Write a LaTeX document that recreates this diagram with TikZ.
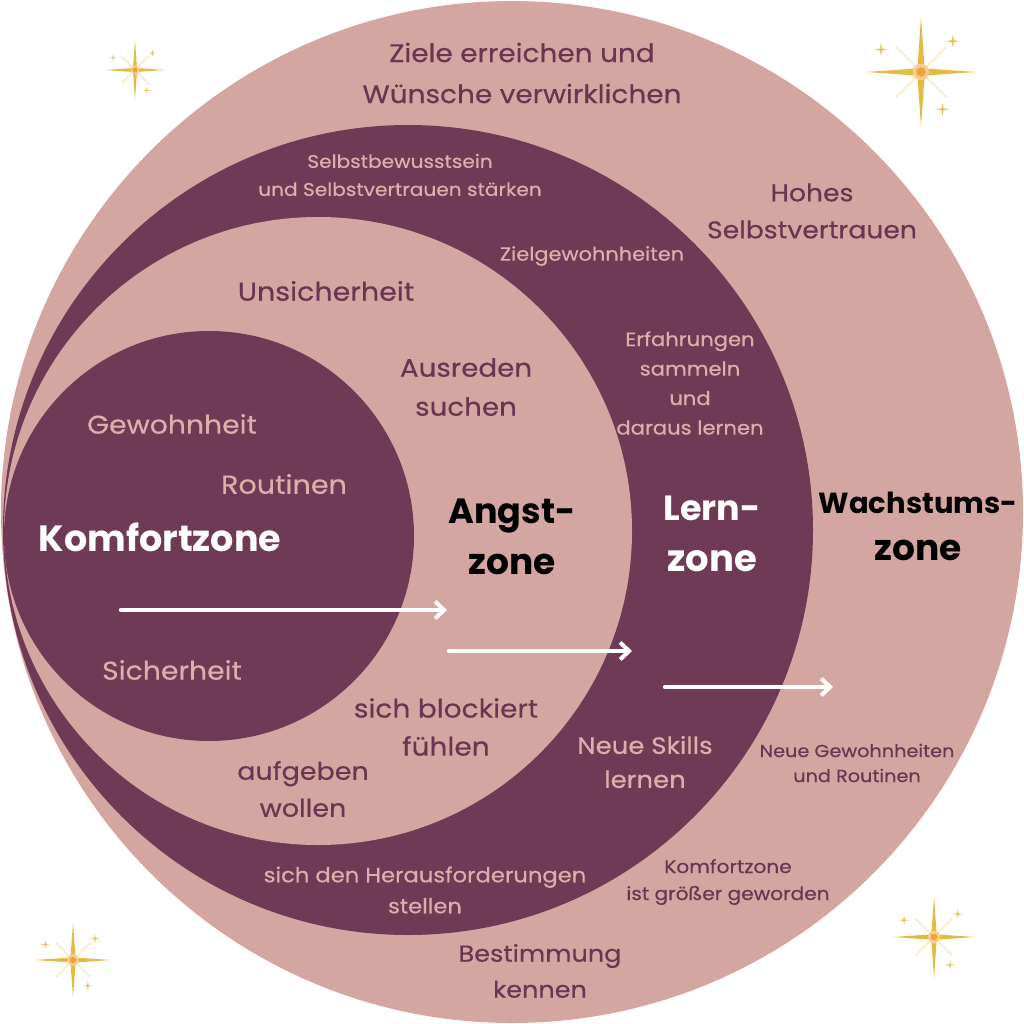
\documentclass[tikz,border=0pt]{standalone}
\usepackage{fontspec}
\setmainfont{Poppins}[FakeStretch=1.1,FakeBold=0.4]
\newfontfamily\titlefont{Poppins}
\usetikzlibrary{arrows.meta}
\definecolor{rose}{HTML}{D4A6A2}
\definecolor{plum}{HTML}{6F3A55}
\definecolor{plumtext}{HTML}{6A3551}
\definecolor{rosetext}{HTML}{DCAFAC}
\definecolor{gold}{HTML}{E4BB40}
\definecolor{goldcore}{HTML}{EDA43A}
\newcommand\fsz[2]{\fontsize{#1}{#2}\selectfont}
\begin{document}
\begin{tikzpicture}[x=1pt,y=-1pt,
  onpink/.style={text=plumtext, align=center, inner sep=0pt},
  onplum/.style={text=rosetext, align=center, inner sep=0pt},
  titlew/.style={text=white, align=center, inner sep=0pt},
  titleb/.style={text=black, align=center, inner sep=0pt},
  warrow/.style={draw=white, line width=4.5pt, line cap=round,
    -{Straight Barb[length=9pt,width=17pt,line width=4pt]}},
  sparkle/.pic={
    \draw[gold!45, line width=0.8pt] (-0.45,-0.45) -- (0.45,0.45) (-0.45,0.45) -- (0.45,-0.45);
    \fill[gold] (0,-1) -- (0.065,-0.065) -- (1,0) -- (0.065,0.065) -- (0,1) -- (-0.065,0.065) -- (-1,0) -- (-0.065,-0.065) -- cycle;
    \fill[goldcore!55] (0,0) circle (0.15);
    \fill[goldcore] (0,0) circle (0.085);
    \foreach \px/\py in {-0.73/-0.41, 0.58/-0.56, 0.39/0.68} {
      \fill[gold!85] (\px,\py-0.12) -- (\px+0.02,\py-0.02) -- (\px+0.12,\py) -- (\px+0.02,\py+0.02)
        -- (\px,\py+0.12) -- (\px-0.02,\py+0.02) -- (\px-0.12,\py) -- (\px-0.02,\py-0.02) -- cycle;
    }
  }]
\useasboundingbox (0,0) rectangle (1024,1024);
\fill[white] (0,0) rectangle (1024,1024);
% zones
\fill[rose] (512,512) circle (511pt);
\fill[plum] (408,530) circle (405pt);
\fill[rose] (318,531) circle (314pt);
\fill[plum] (209,536) circle (205pt);
% stars
\pic[scale=30] (starTL) at (135,70) {sparkle};
\pic[scale=55] (starTR) at (921,72) {sparkle};
\pic[scale=38] (starBL) at (73,960) {sparkle};
\pic[scale=41] (starBR) at (934,937) {sparkle};
% labels
\node[onpink, font=\fsz{25.4}{41}] (ziele) at (522,73) {Ziele erreichen und\\Wünsche verwirklichen};
\node[onplum, font=\fsz{18.3}{28}] (selbst) at (400,175) {Selbstbewusstsein\\und Selbstvertrauen stärken};
\node[onpink, font=\fsz{24.2}{37}] (hohes) at (812,211) {Hohes\\Selbstvertrauen};
\node[onplum, font=\fsz{19}{28}] (zielgew) at (592,256) {Zielgewohnheiten};
\node[onpink, font=\fsz{25.9}{38}] (unsich) at (326,291) {Unsicherheit};
\node[onplum, font=\fsz{19.2}{29.5}] (erfahr) at (690,383) {Erfahrungen\\sammeln\\und\\daraus lernen};
\node[onpink, font=\fsz{25.2}{39}] (ausreden) at (466,387) {Ausreden\\suchen};
\node[onplum, font=\fsz{25.7}{38}] (gewohn) at (172,424) {Gewohnheit};
\node[onplum, font=\fsz{26}{38}] (routinen) at (284,484) {Routinen};
\node[titlew, font=\titlefont\bfseries\fsz{36.5}{50}] (komfort) at (160,537) {Komfortzone};
\node[titleb, font=\titlefont\bfseries\fsz{35}{51}] (angst) at (512,537) {Angst-\\\fsz{36}{51}zone};
\node[titlew, font=\titlefont\bfseries\fsz{35}{51}] (lern) at (712,534) {Lern-\\\fsz{37}{51}zone};
\node[titleb, font=\titlefont\bfseries\fsz{29}{47}] (wachs) at (918,526) {Wachstums-\\\fsz{36}{47}zone};
\node[onplum, font=\fsz{25.7}{38}] (sicher) at (172,670) {Sicherheit};
\node[onpink, font=\fsz{25.5}{38}] (block) at (446,727) {sich blockiert\\fühlen};
\node[onpink, font=\fsz{24.5}{37}] (aufgeben) at (303,789) {aufgeben\\wollen};
\node[onplum, font=\fsz{23.6}{34}] (skills) at (645,762) {Neue Skills\\lernen};
\node[onpink, font=\fsz{17.5}{25}] (neuegew) at (857,763) {Neue Gewohnheiten\\und Routinen};
\node[onpink, font=\fsz{18.3}{27}] (kgross) at (728,882) {Komfortzone\\ist größer geworden};
\node[onplum, font=\fsz{20.6}{31}] (heraus) at (425,890) {sich den Herausforderungen\\stellen};
\node[onpink, font=\fsz{23.2}{36}] (bestimm) at (540,971) {Bestimmung\\kennen};
% arrows
\coordinate (a1s) at (121,610);
\coordinate (a1e) at (447,610);
\coordinate (a2s) at (449,651);
\coordinate (a2e) at (632,651);
\coordinate (a3s) at (665,687);
\coordinate (a3e) at (833,687);
\draw[warrow] (a1s) -- (a1e);
\draw[warrow] (a2s) -- (a2e);
\draw[warrow] (a3s) -- (a3e);
\end{tikzpicture}
\end{document}
